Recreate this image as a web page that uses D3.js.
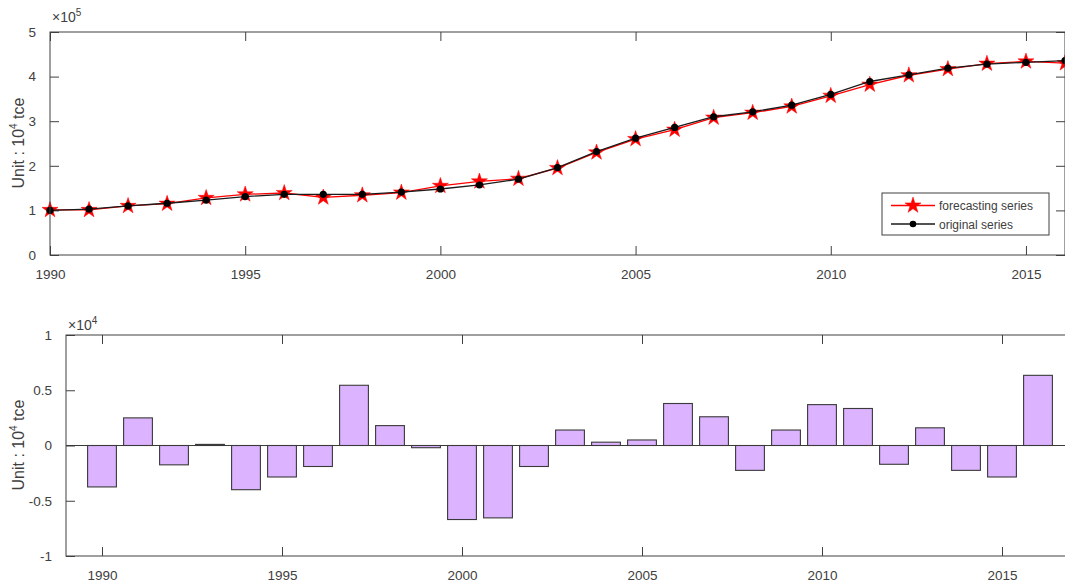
<!DOCTYPE html>
<head>
    <meta charset=utf-8>
    <title>forecast</title>
    <script src="https://d3js.org/d3.v7.min.js"></script>
    <style>
        body { margin: 0; background: #fff; }
        text { font-family: "Liberation Sans", Arial, sans-serif; fill: #404040; }
        .frame { fill: none; stroke: #404040; stroke-width: 1; }
        .tick line { stroke: #404040; }
    </style>
</head>
<body>
<script type="text/javascript">
    // years
    var years = d3.range(1990, 2017);

    // top plot, unit 1e5 (x 10^4 tce)
    var original = [1.00, 1.03, 1.10, 1.16, 1.23, 1.31, 1.36, 1.36, 1.36, 1.41, 1.48, 1.57, 1.70, 1.96,
                    2.32, 2.62, 2.86, 3.10, 3.21, 3.36, 3.60, 3.89, 4.04, 4.19, 4.28, 4.32, 4.36];
    var forecast = [1.01, 1.01, 1.10, 1.15, 1.28, 1.36, 1.39, 1.29, 1.34, 1.40, 1.55, 1.65, 1.71, 1.95,
                    2.30, 2.60, 2.81, 3.08, 3.19, 3.33, 3.57, 3.82, 4.03, 4.17, 4.29, 4.34, 4.30];

    // bottom plot residuals, unit 1e4
    var residual = [-0.375, 0.25, -0.175, 0.01, -0.40, -0.285, -0.19, 0.545, 0.18, -0.02, -0.67, -0.655,
                    -0.19, 0.14, 0.03, 0.05, 0.38, 0.26, -0.225, 0.14, 0.37, 0.335, -0.17, 0.16, -0.225,
                    -0.285, 0.635];

    var topYTicks = [0, 1, 2, 3, 4, 5];
    var botYTicks = [-1, -0.5, 0, 0.5, 1];
    var botYLabels = ["-1", "-0.5", "0", "0.5", "1"];
    var xTicks = [1990, 1995, 2000, 2005, 2010, 2015];

    var svg = d3.select("body").append("svg")
        .attr("width", 1065)
        .attr("height", 584);

    var tickLen = 9;

    // ---------- top plot ----------
    var x1 = d3.scaleLinear().domain([1990, 2016]).range([50, 1065]),
        y1 = d3.scaleLinear().domain([0, 5]).range([255, 32]);

    function frame(x, y) {
        var xr = x.range(), yr = y.range();
        svg.append("rect").attr("class", "frame")
            .attr("x", xr[0]).attr("y", d3.min(yr))
            .attr("width", xr[1] - xr[0]).attr("height", Math.abs(yr[0] - yr[1]));
    }

    function axes(x, y, yt, yfmt) {
        var xr = x.range(), yr = y.range();
        var yb = d3.max(yr), yt0 = d3.min(yr);
        svg.append("g").attr("transform", "translate(0," + yb + ")")
            .call(d3.axisBottom(x).tickValues(xTicks).tickFormat(d3.format("d")).tickSizeInner(-tickLen).tickSizeOuter(0).tickPadding(14))
            .call(g => g.select(".domain").remove())
            .selectAll("text").attr("font-size", 13.5).attr("fill", "#404040");
        svg.append("g").attr("transform", "translate(0," + yt0 + ")")
            .call(d3.axisTop(x).tickValues(xTicks).tickFormat("").tickSizeInner(-tickLen).tickSizeOuter(0))
            .call(g => g.select(".domain").remove());
        svg.append("g").attr("transform", "translate(" + xr[0] + ",0)")
            .call(d3.axisLeft(y).tickValues(yt).tickFormat(yfmt).tickSizeInner(-tickLen).tickSizeOuter(0).tickPadding(14))
            .call(g => g.select(".domain").remove())
            .selectAll("text").attr("font-size", 13.5).attr("fill", "#404040");
        svg.append("g").attr("transform", "translate(" + xr[1] + ",0)")
            .call(d3.axisRight(y).tickValues(yt).tickFormat("").tickSizeInner(-tickLen).tickSizeOuter(0))
            .call(g => g.select(".domain").remove());
    }

    function ylabel(cx, cy) {
        var t = svg.append("text")
            .attr("transform", "translate(" + cx + "," + cy + ") rotate(-90)")
            .attr("text-anchor", "middle")
            .attr("font-size", 16);
        t.append("tspan").text("Unit : 10");
        t.append("tspan").attr("font-size", 10).attr("dy", -7).text("4");
        t.append("tspan").attr("dy", 7).text(" tce");
    }

    function exponent(x0, y0, p) {
        var t = svg.append("text").attr("x", x0).attr("y", y0).attr("font-size", 14);
        t.append("tspan").text("\u00d710");
        t.append("tspan").attr("font-size", 10).attr("dy", -6).text(p);
    }

    axes(x1, y1, topYTicks, d3.format("d"));

    var line1 = d3.line().x((d, i) => x1(years[i])).y(d => y1(d));

    svg.append("path").datum(forecast)
        .attr("d", line1).attr("fill", "none").attr("stroke", "#ff0000").attr("stroke-width", 1.3);
    svg.append("g").selectAll("path").data(forecast).enter().append("path")
        .attr("d", d3.symbol().type(d3.symbolStar).size(80))
        .attr("transform", (d, i) => "translate(" + x1(years[i]) + "," + y1(d) + ")")
        .attr("fill", "#ff0000").attr("stroke", "#ff0000").attr("stroke-width", 0.5);
    svg.append("path").datum(original)
        .attr("d", line1).attr("fill", "none").attr("stroke", "#1a1a1a").attr("stroke-width", 1.3);
    svg.append("g").selectAll("circle").data(original).enter().append("circle")
        .attr("cx", (d, i) => x1(years[i])).attr("cy", d => y1(d)).attr("r", 3.6)
        .attr("fill", "#000");

    frame(x1, y1);
    exponent(52, 22, "5");
    ylabel(24, 143);

    // legend
    var lg = svg.append("g");
    lg.append("rect").attr("x", 882).attr("y", 193).attr("width", 167).attr("height", 42)
        .attr("fill", "#fff").attr("stroke", "#404040").attr("stroke-width", 1);
    lg.append("line").attr("x1", 891).attr("x2", 935).attr("y1", 205.5).attr("y2", 205.5)
        .attr("stroke", "#ff0000").attr("stroke-width", 1.3);
    lg.append("path").attr("d", d3.symbol().type(d3.symbolStar).size(80))
        .attr("transform", "translate(913,205.5)").attr("fill", "#ff0000").attr("stroke", "#ff0000").attr("stroke-width", 0.5);
    lg.append("text").attr("x", 939).attr("y", 210).attr("font-size", 12).attr("fill", "#222").text("forecasting series");
    lg.append("line").attr("x1", 891).attr("x2", 935).attr("y1", 224).attr("y2", 224)
        .attr("stroke", "#1a1a1a").attr("stroke-width", 1.3);
    lg.append("circle").attr("cx", 913).attr("cy", 224).attr("r", 3.3).attr("fill", "#000");
    lg.append("text").attr("x", 939).attr("y", 228.5).attr("font-size", 12).attr("fill", "#222").text("original series");

    // ---------- bottom plot ----------
    var x2 = d3.scaleLinear().domain([1989, 2017]).range([66, 1074]),
        y2 = d3.scaleLinear().domain([-1, 1]).range([556, 335]);

    axes(x2, y2, botYTicks, (d, i) => botYLabels[i]);

    var bw = (x2(1) - x2(0)) * 0.8;
    svg.append("g").selectAll("rect").data(residual).enter().append("rect")
        .attr("x", (d, i) => x2(years[i]) - bw / 2)
        .attr("y", d => y2(Math.max(0, d)))
        .attr("width", bw)
        .attr("height", d => Math.abs(y2(d) - y2(0)))
        .attr("fill", "#dcb3ff")
        .attr("stroke", "#3a3a3a")
        .attr("stroke-width", 1.1);

    svg.append("line").attr("x1", x2(1989)).attr("x2", x2(2017))
        .attr("y1", y2(0)).attr("y2", y2(0))
        .attr("stroke", "#3a3a3a").attr("stroke-width", 1);

    frame(x2, y2);
    exponent(68, 330, "4");
    ylabel(24, 445);
</script>
</body>
